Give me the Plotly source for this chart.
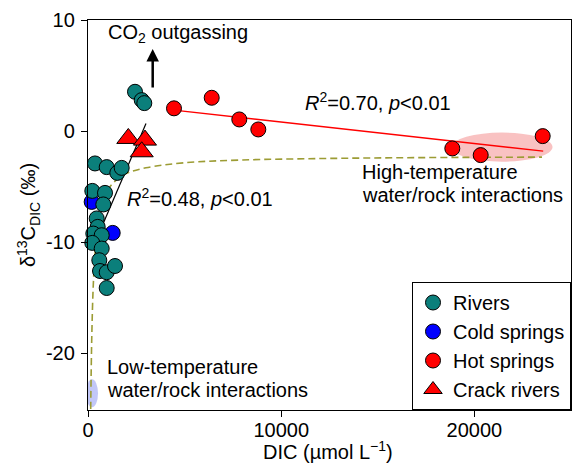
import plotly.graph_objects as go

# ---------------- data ----------------
river_dic = [2433, 2780, 2914, 362, 968, 1517, 1744, 223, 880, 792, 450, 502,
             274, 709, 223, 709, 585, 621, 968, 1398, 968]
river_d13c = [3.54, 2.79, 2.52, -2.91, -3.24, -3.76, -3.31, -5.38, -5.56, -6.6,
              -7.86, -8.62, -9.22, -9.37, -10.06, -10.57, -11.62, -12.59, -12.7,
              -12.14, -14.12]

cold_dic = [190, 1278]
cold_d13c = [-6.37, -9.16]

hot_dic = [4451, 6403, 7831, 8815, 18856, 20326, 23535]
hot_d13c = [2.05, 3.0, 1.05, 0.15, -1.56, -2.16, -0.45]

crack_dic = [2086, 2950, 2780]
crack_d13c = [-0.66, -0.81, -1.86]

# regression lines (end points)
river_fit_dic = [200, 3002]
river_fit_d13c = [-10.7, 0.69]
hot_fit_dic = [4451, 23560]
hot_fit_d13c = [1.89, -1.8]

# mixing curve
mix_dic = [140, 160, 200, 275, 400, 600, 1000, 1400, 2000, 3000, 5000, 8000,
           12000, 16000, 20000, 23500]
mix_d13c = [-25.0, -22.2, -18.2, -13.8, -10.2, -7.5, -5.4, -4.5, -3.8, -3.3,
            -2.85, -2.6, -2.47, -2.4, -2.36, -2.34]

# shaded regions: centre x, centre y, half width, half height
high_region = [21430, -1.44, 2614, 1.31]
low_region = [207, -23.6, 311, 1.26]

x_ticks = [0, 10000, 20000]
y_ticks = [-20, -10, 0, 10]

FONT = "Liberation Sans, Arial, sans-serif"
TEAL = "#0b7f7b"
BLUE = "#0000ff"
RED = "#ff0000"
OLIVE = "#9c9c34"

fig = go.Figure()

# mixing curve
fig.add_trace(go.Scatter(x=mix_dic, y=mix_d13c, mode="lines",
                         line=dict(color=OLIVE, width=1.6, dash="7px,4px", shape="spline"),
                         showlegend=False, hoverinfo="skip"))
# fits
fig.add_trace(go.Scatter(x=river_fit_dic, y=river_fit_d13c, mode="lines",
                         line=dict(color="black", width=1.2), showlegend=False))
fig.add_trace(go.Scatter(x=hot_fit_dic, y=hot_fit_d13c, mode="lines",
                         line=dict(color=RED, width=1.4), showlegend=False))

mk_line = dict(color="black", width=1)
fig.add_trace(go.Scatter(x=cold_dic, y=cold_d13c, mode="markers", name="Cold springs",
                         marker=dict(size=15, color=BLUE, line=mk_line),
                         legendrank=2, cliponaxis=False))
fig.add_trace(go.Scatter(x=river_dic, y=river_d13c, mode="markers", name="Rivers",
                         marker=dict(size=15, color=TEAL, line=mk_line),
                         legendrank=1, cliponaxis=False))
fig.add_trace(go.Scatter(x=hot_dic, y=hot_d13c, mode="markers", name="Hot springs",
                         marker=dict(size=15, color=RED, line=mk_line),
                         legendrank=3, cliponaxis=False))
fig.add_trace(go.Scatter(x=crack_dic, y=crack_d13c, mode="markers", name="Crack rivers",
                         marker=dict(size=20, color=RED, symbol="triangle-up", line=mk_line),
                         legendrank=4, cliponaxis=False))

# shaded ellipses
for (cx, cy, hw, hh), col in [(high_region, "rgba(240,110,110,0.42)"),
                              (low_region, "rgba(120,130,240,0.45)")]:
    fig.add_shape(type="circle", xref="x", yref="y", x0=cx - hw, x1=cx + hw,
                  y0=cy - hh, y1=cy + hh, fillcolor=col, line=dict(width=0),
                  layer="below")

# annotations
txt = dict(family=FONT, size=20, color="black")
fig.add_annotation(x=4658, y=8.83, text="CO<sub>2</sub> outgassing", showarrow=False,
                   xanchor="center", yanchor="middle", font=txt)
fig.add_annotation(x=3349, y=7.4, ax=3349, ay=3.78, xref="x", yref="y",
                   axref="x", ayref="y", text="", showarrow=True,
                   arrowhead=2, arrowsize=1, arrowwidth=2.5, arrowcolor="black")
fig.add_annotation(x=1915, y=-5.95, text="<i>R</i><sup>2</sup>=0.48, <i>p</i>&lt;0.01",
                   showarrow=False, xanchor="left", yanchor="middle", font=txt)
fig.add_annotation(x=11128, y=2.64, text="<i>R</i><sup>2</sup>=0.70, <i>p</i>&lt;0.01",
                   showarrow=False, xanchor="left", yanchor="middle", font=txt)
fig.add_annotation(x=14079, y=-3.66, text="High-temperature",
                   showarrow=False, xanchor="left", yanchor="middle", font=txt)
fig.add_annotation(x=14079, y=-5.76, text="water/rock interactions",
                   showarrow=False, xanchor="left", yanchor="middle", font=txt)
fig.add_annotation(x=880, y=-21.23, text="Low-temperature",
                   showarrow=False, xanchor="left", yanchor="middle", font=txt)
fig.add_annotation(x=880, y=-23.33, text="water/rock interactions",
                   showarrow=False, xanchor="left", yanchor="middle", font=txt)
# x-axis title placed precisely
fig.add_annotation(xref="paper", yref="paper", x=0.497, y=-0.1026,
                   text="DIC (µmol L<sup>−1</sup>)", showarrow=False,
                   xanchor="center", yanchor="middle", font=txt)

axis_common = dict(showline=True, linecolor="black", linewidth=1.3, mirror=True,
                   ticks="outside", ticklen=6, tickwidth=1.3, tickcolor="black",
                   showgrid=False, zeroline=False,
                   tickfont=dict(family=FONT, size=20, color="black"))

fig.update_xaxes(range=[0, 25000], tickvals=x_ticks,
                 ticktext=[str(v) for v in x_ticks], ticklabelstandoff=-4,
                 **axis_common)
fig.update_yaxes(range=[-25.1, 10], tickvals=y_ticks,
                 ticktext=[str(v) for v in y_ticks], ticklabelstandoff=2,
                 title=dict(text="δ<sup>13</sup>C<sub>DIC</sub> (‰)",
                            font=dict(family=FONT, size=20, color="black"), standoff=4),
                 **axis_common)

fig.update_layout(
    width=572, height=470,
    margin=dict(l=88, r=1, t=20, b=60),
    plot_bgcolor="white", paper_bgcolor="white",
    font=dict(family=FONT, size=20, color="black"),
    legend=dict(x=1, y=0, xanchor="right", yanchor="bottom",
                bgcolor="white", bordercolor="black", borderwidth=1,
                font=dict(family=FONT, size=20, color="black"),
                itemwidth=30, tracegroupgap=0),
)

fig.write_html("out.html")
